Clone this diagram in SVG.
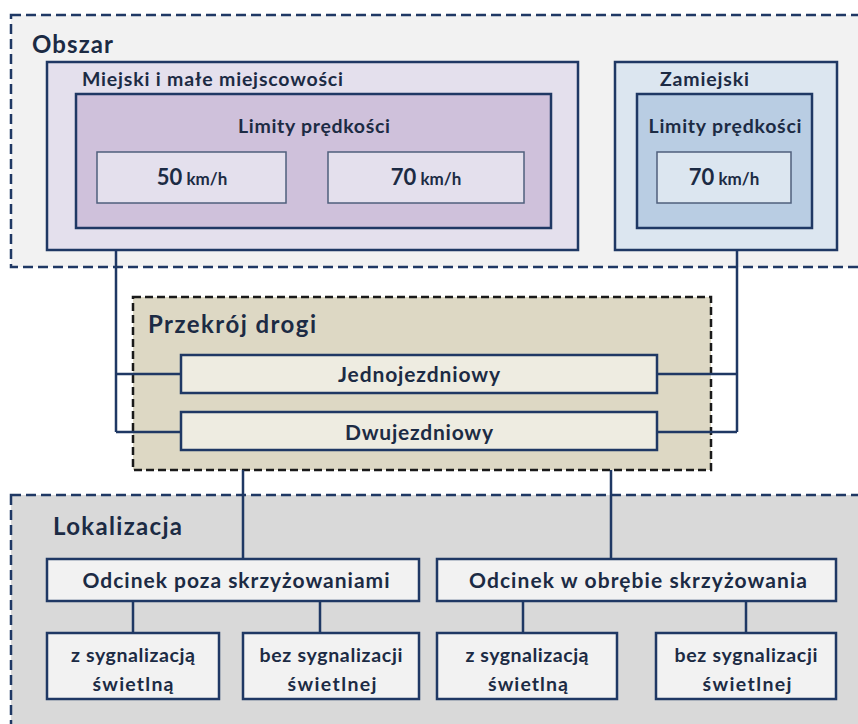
<svg xmlns="http://www.w3.org/2000/svg" width="858" height="724" viewBox="0 0 858 724">
<style>
text{font-family:Lato,"Liberation Sans",sans-serif;font-weight:bold;fill:#1c2b44}
.area{stroke:#1f3864;stroke-width:2.5;stroke-dasharray:10 5}
.prz{stroke:#1a1a1a;stroke-width:2.5;stroke-dasharray:8 4}
.box{stroke:#1f3864;stroke-width:2.5}
.thin{stroke:#4f5f7c;stroke-width:1.5}
.conn{stroke:#1f3864;stroke-width:2.5;fill:none}
.t1{font-size:24px}
.t2{font-size:19.5px}
.t3{font-size:21px}
.num{font-size:22px}
.unit{font-size:17px}
.mid{text-anchor:middle}
</style>
<rect width="858" height="724" fill="#ffffff"/>
<g id="obszar">
<rect class="area" x="11" y="15" width="860" height="252" fill="#f2f2f2"/>
<text class="t1" x="32" y="53" textLength="81" lengthAdjust="spacing">Obszar</text>
</g>
<g id="lokalizacja">
<rect class="area" x="11" y="495" width="860" height="240" fill="#d9d9d9"/>
<text class="t1" x="53" y="535" textLength="129" lengthAdjust="spacing">Lokalizacja</text>
</g>
<g id="przekroj">
<rect class="prz" x="133" y="297" width="578" height="173" fill="#ddd8c4"/>
<text class="t1" x="148" y="333" textLength="168" lengthAdjust="spacing">Przekrój drogi</text>
</g>
<g id="miejski">
<rect class="box" x="47" y="62" width="531" height="188" fill="#e4e0ed"/>
<text class="t2" x="82" y="86" textLength="261" lengthAdjust="spacing">Miejski i małe miejscowości</text>
</g>
<g id="limity-miejski">
<rect class="box" x="76" y="94" width="475" height="134" fill="#cfc1db" stroke-width="3"/>
<text class="t2 mid" x="314" y="133" textLength="152" lengthAdjust="spacing">Limity prędkości</text>
</g>
<g id="v50">
<rect class="thin" x="97" y="152" width="189" height="51" fill="#e4e0ed"/>
<text class="mid" x="192" y="185"><tspan class="num">50</tspan><tspan class="unit"> km/h</tspan></text>
</g>
<g id="v70-miejski">
<rect class="thin" x="328" y="152" width="196" height="51" fill="#e4e0ed"/>
<text class="mid" x="426" y="185"><tspan class="num">70</tspan><tspan class="unit"> km/h</tspan></text>
</g>
<g id="zamiejski">
<rect class="box" x="615" y="62" width="222" height="188" fill="#dce6f0"/>
<text class="t2" x="660" y="86" textLength="89" lengthAdjust="spacing">Zamiejski</text>
</g>
<g id="limity-zamiejski">
<rect class="box" x="637" y="94" width="175" height="134" fill="#b9cde3" stroke-width="3"/>
<text class="t2 mid" x="725" y="133" textLength="153" lengthAdjust="spacing">Limity prędkości</text>
</g>
<g id="v70-zamiejski">
<rect class="thin" x="657" y="152" width="134" height="51" fill="#dce6f0"/>
<text class="mid" x="724" y="185"><tspan class="num">70</tspan><tspan class="unit"> km/h</tspan></text>
</g>
<g id="connectors">
<path class="conn" d="M116 250V432M116 374H181M116 432H181"/>
<path class="conn" d="M737 250V432M657 374H737M657 432H737"/>
<path class="conn" d="M243 470V560M611 470V560"/>
<path class="conn" d="M133 601V633M320 601V633M523 601V633M746 601V633"/>
</g>
<g id="jednojezdniowy">
<rect class="box" x="181" y="355" width="476" height="38" fill="#eeece1"/>
<text class="t3 mid" x="419" y="382" textLength="162" lengthAdjust="spacing">Jednojezdniowy</text>
</g>
<g id="dwujezdniowy">
<rect class="box" x="181" y="412" width="476" height="38" fill="#eeece1"/>
<text class="t3 mid" x="419" y="440" textLength="148" lengthAdjust="spacing">Dwujezdniowy</text>
</g>
<g id="odcinek-poza">
<rect class="box" x="47" y="559" width="372" height="42" fill="#f2f2f2"/>
<text class="t3 mid" x="236" y="588" textLength="307" lengthAdjust="spacing">Odcinek poza skrzyżowaniami</text>
</g>
<g id="odcinek-w-obrebie">
<rect class="box" x="437" y="559" width="399" height="42" fill="#f2f2f2"/>
<text class="t3 mid" x="638" y="588" textLength="338" lengthAdjust="spacing">Odcinek w obrębie skrzyżowania</text>
</g>
<g id="z-sygn-1">
<rect class="box" x="47" y="633" width="172" height="66" fill="#f2f2f2"/>
<text class="t2 mid" x="133" y="662" textLength="124" lengthAdjust="spacing">z sygnalizacją</text>
<text class="t2 mid" x="133" y="691" textLength="81" lengthAdjust="spacing">świetlną</text>
</g>
<g id="bez-sygn-1">
<rect class="box" x="243" y="633" width="176" height="66" fill="#f2f2f2"/>
<text class="t2 mid" x="331" y="662" textLength="143" lengthAdjust="spacing">bez sygnalizacji</text>
<text class="t2 mid" x="332" y="691" textLength="89" lengthAdjust="spacing">świetlnej</text>
</g>
<g id="z-sygn-2">
<rect class="box" x="437" y="633" width="180" height="66" fill="#f2f2f2"/>
<text class="t2 mid" x="527" y="662" textLength="123" lengthAdjust="spacing">z sygnalizacją</text>
<text class="t2 mid" x="528" y="691" textLength="80" lengthAdjust="spacing">świetlną</text>
</g>
<g id="bez-sygn-2">
<rect class="box" x="656" y="633" width="180" height="66" fill="#f2f2f2"/>
<text class="t2 mid" x="746" y="662" textLength="143" lengthAdjust="spacing">bez sygnalizacji</text>
<text class="t2 mid" x="747" y="691" textLength="89" lengthAdjust="spacing">świetlnej</text>
</g>
</svg>
